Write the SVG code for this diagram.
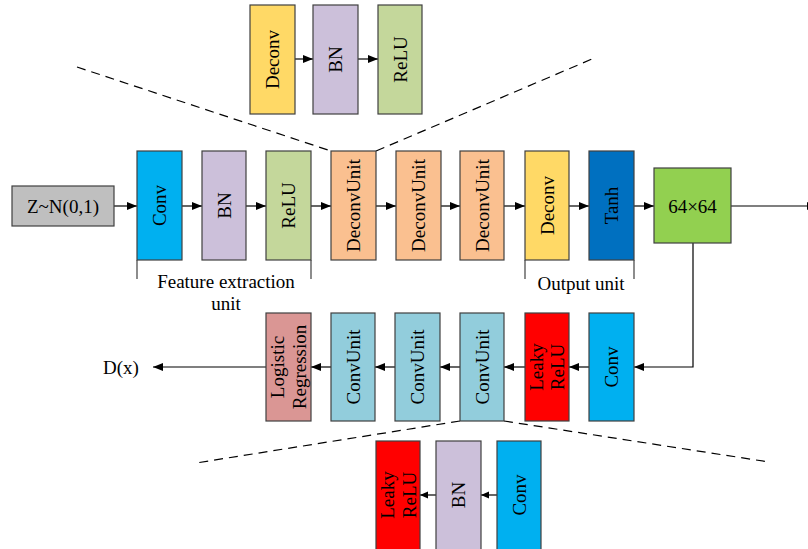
<svg xmlns="http://www.w3.org/2000/svg" width="808" height="549" viewBox="0 0 808 549">
<style>
.box{stroke:#404040;stroke-width:1.2}
.t{font-family:"Liberation Serif","Times New Roman",serif;font-size:19px;fill:#000}
.c{text-anchor:middle;dominant-baseline:central}
.ln{stroke:#000;stroke-width:1.2;fill:none}
.br{stroke:#404040;stroke-width:1.2;fill:none}
.dash{stroke:#000;stroke-width:1.2;stroke-dasharray:9,6;fill:none}
</style>
<defs>
<marker id="ah" markerWidth="10" markerHeight="8" refX="10" refY="4" orient="auto" markerUnits="userSpaceOnUse">
<path d="M0,0 L10,4 L0,8 Z" fill="#000"/>
</marker>
<marker id="ahs" markerWidth="8" markerHeight="8" refX="8" refY="4" orient="auto" markerUnits="userSpaceOnUse">
<path d="M0,0.5 L8,4 L0,7.5 Z" fill="#000"/>
</marker>
</defs>

<g id="connectors">
<line class="ln" x1="295" y1="59" x2="313" y2="59" marker-end="url(#ah)"/>
<line class="ln" x1="358" y1="59" x2="378" y2="59" marker-end="url(#ah)"/>
<line class="ln" x1="114" y1="206" x2="137" y2="206" marker-end="url(#ah)"/>
<line class="ln" x1="182" y1="206" x2="202" y2="206" marker-end="url(#ah)"/>
<line class="ln" x1="246" y1="206" x2="266" y2="206" marker-end="url(#ah)"/>
<line class="ln" x1="311" y1="206" x2="331" y2="206" marker-end="url(#ah)"/>
<line class="ln" x1="376" y1="206" x2="396" y2="206" marker-end="url(#ah)"/>
<line class="ln" x1="441" y1="206" x2="460" y2="206" marker-end="url(#ah)"/>
<line class="ln" x1="504" y1="206" x2="525" y2="206" marker-end="url(#ah)"/>
<line class="ln" x1="569" y1="206" x2="589" y2="206" marker-end="url(#ah)"/>
<line class="ln" x1="634" y1="206" x2="654" y2="206" marker-end="url(#ah)"/>
<line class="ln" x1="731" y1="206" x2="817" y2="206" marker-end="url(#ah)"/>
<polyline class="ln" points="693,243 693,367 634,367" marker-end="url(#ah)"/>
<line class="ln" x1="589" y1="367" x2="569" y2="367" marker-end="url(#ah)"/>
<line class="ln" x1="525" y1="367" x2="504" y2="367" marker-end="url(#ah)"/>
<line class="ln" x1="460" y1="367" x2="440" y2="367" marker-end="url(#ah)"/>
<line class="ln" x1="395" y1="367" x2="375" y2="367" marker-end="url(#ah)"/>
<line class="ln" x1="331" y1="367" x2="311" y2="367" marker-end="url(#ah)"/>
<line class="ln" x1="266" y1="367" x2="153" y2="367" marker-end="url(#ah)"/>
<line class="ln" x1="436" y1="495" x2="420" y2="495" marker-end="url(#ahs)"/>
<line class="ln" x1="497" y1="495" x2="481" y2="495" marker-end="url(#ahs)"/>
<line class="dash" x1="77" y1="67" x2="331" y2="151"/>
<line class="dash" x1="376" y1="151" x2="592" y2="59"/>
<line class="dash" x1="460" y1="421" x2="196" y2="463"/>
<line class="dash" x1="504" y1="421" x2="769" y2="462"/>
<polyline class="br" points="137,260 137,279"/>
<polyline class="br" points="311,260 311,279"/>
<polyline class="br" points="525,260 525,279"/>
<polyline class="br" points="634,260 634,279"/>
</g>

<g id="inset-top-deconv"><rect class="box" x="250" y="5" width="45" height="109" fill="#FFD966"/><text class="t c" transform="translate(272.5,59.5) rotate(-90)">Deconv</text></g>
<g id="inset-top-bn"><rect class="box" x="313" y="5" width="45" height="109" fill="#CCC0DA"/><text class="t c" transform="translate(335.5,59.5) rotate(-90)">BN</text></g>
<g id="inset-top-relu"><rect class="box" x="378" y="5" width="44" height="109" fill="#C4D79B"/><text class="t c" transform="translate(400,59.5) rotate(-90)">ReLU</text></g>

<g id="z"><rect class="box" x="12" y="186" width="102" height="40" fill="#BFBFBF"/><text class="t c" x="63" y="206">Z~N(0,1)</text></g>
<g id="g-conv"><rect class="box" x="137" y="151" width="45" height="109" fill="#00B0F0"/><text class="t c" transform="translate(159.5,205.5) rotate(-90)">Conv</text></g>
<g id="g-bn"><rect class="box" x="202" y="151" width="44" height="109" fill="#CCC0DA"/><text class="t c" transform="translate(224,205.5) rotate(-90)">BN</text></g>
<g id="g-relu"><rect class="box" x="266" y="151" width="45" height="109" fill="#C4D79B"/><text class="t c" transform="translate(288.5,205.5) rotate(-90)">ReLU</text></g>
<g id="deconvunit1"><rect class="box" x="331" y="151" width="45" height="109" fill="#FAC090"/><text class="t c" transform="translate(353.5,205.5) rotate(-90)">DeconvUnit</text></g>
<g id="deconvunit2"><rect class="box" x="396" y="151" width="45" height="109" fill="#FAC090"/><text class="t c" transform="translate(418.5,205.5) rotate(-90)">DeconvUnit</text></g>
<g id="deconvunit3"><rect class="box" x="460" y="151" width="44" height="109" fill="#FAC090"/><text class="t c" transform="translate(482,205.5) rotate(-90)">DeconvUnit</text></g>
<g id="g-deconv"><rect class="box" x="525" y="151" width="44" height="109" fill="#FFD966"/><text class="t c" transform="translate(547,205.5) rotate(-90)">Deconv</text></g>
<g id="g-tanh"><rect class="box" x="589" y="151" width="45" height="109" fill="#0070C0"/><text class="t c" transform="translate(611.5,205.5) rotate(-90)">Tanh</text></g>
<g id="img"><rect class="box" x="654" y="168" width="77" height="75" fill="#92D050"/><text class="t c" x="692.5" y="206">64×64</text></g>

<g id="label-feature"><text class="t" x="226" y="288" text-anchor="middle">Feature extraction</text><text class="t" x="226" y="310" text-anchor="middle">unit</text></g>
<g id="label-output"><text class="t" x="581" y="290" text-anchor="middle">Output unit</text></g>

<g id="d-conv"><rect class="box" x="589" y="313" width="45" height="108" fill="#00B0F0"/><text class="t c" transform="translate(611.5,367) rotate(-90)">Conv</text></g>
<g id="d-leaky"><rect class="box" x="525" y="313" width="44" height="108" fill="#FF0000"/><text class="t c" transform="translate(536,367) rotate(-90)">Leaky</text><text class="t c" transform="translate(557,367) rotate(-90)">ReLU</text></g>
<g id="convunit3"><rect class="box" x="460" y="313" width="44" height="108" fill="#92CDDC"/><text class="t c" transform="translate(482,367) rotate(-90)">ConvUnit</text></g>
<g id="convunit2"><rect class="box" x="395" y="313" width="45" height="108" fill="#92CDDC"/><text class="t c" transform="translate(417.5,367) rotate(-90)">ConvUnit</text></g>
<g id="convunit1"><rect class="box" x="331" y="313" width="44" height="108" fill="#92CDDC"/><text class="t c" transform="translate(353,367) rotate(-90)">ConvUnit</text></g>
<g id="logreg"><rect class="box" x="266" y="313" width="45" height="108" fill="#DA9694"/><text class="t c" transform="translate(277.5,367) rotate(-90)">Logistic</text><text class="t c" transform="translate(299.5,367) rotate(-90)">Regression</text></g>
<g id="dx"><text class="t c" x="121" y="367">D(x)</text></g>

<g id="inset-bot-leaky"><rect class="box" x="376" y="441" width="44" height="110" fill="#FF0000"/><text class="t c" transform="translate(387,495) rotate(-90)">Leaky</text><text class="t c" transform="translate(409,495) rotate(-90)">ReLU</text></g>
<g id="inset-bot-bn"><rect class="box" x="436" y="441" width="45" height="110" fill="#CCC0DA"/><text class="t c" transform="translate(458.5,495) rotate(-90)">BN</text></g>
<g id="inset-bot-conv"><rect class="box" x="497" y="441" width="44" height="110" fill="#00B0F0"/><text class="t c" transform="translate(519,495) rotate(-90)">Conv</text></g>
</svg>
